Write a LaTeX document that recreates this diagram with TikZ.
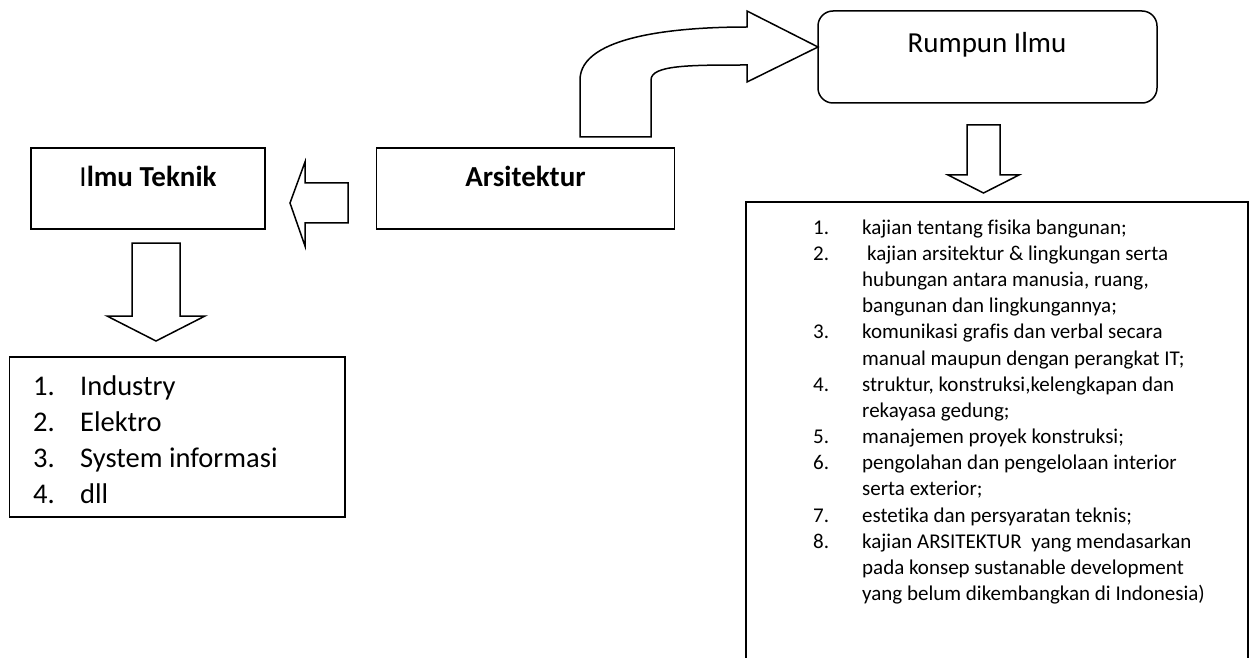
\documentclass[tikz,border=0pt]{standalone}
\usepackage{fontspec}
\setmainfont{Carlito}[Ligatures={NoCommon}]
\begin{document}
\begin{tikzpicture}[x=1pt,y=-1pt,
  outline/.style={draw=black, line width=1.5pt},
  box/.style={outline, rectangle, inner sep=0pt, outer sep=0pt},
  blockarrow/.style={outline, fill=white, line join=miter, miter limit=20},
  boldlbl/.style={anchor=base, inner sep=0pt, font=\bfseries\fontsize{29}{35}\selectfont},
  plainlbl/.style={anchor=base, inner sep=0pt, font=\fontsize{29}{35}\selectfont},
  biglist/.style={anchor=base west, inner sep=0pt, font=\fontsize{28.5}{36}\selectfont},
  smalllist/.style={anchor=base west, inner sep=0pt, font=\fontsize{21}{26.2}\selectfont}]
\useasboundingbox (0,0) rectangle (1254,658);
\fill[white] (0,0) rectangle (1254,658);

% boxes
\node[box, minimum width=234pt, minimum height=81pt] (ilmu) at (148,188.5) {};
\node[box, minimum width=298pt, minimum height=81pt] (arsi) at (525.5,188.5) {};
\node[box, rounded corners=15pt, minimum width=339pt, minimum height=92pt] (rumpun) at (987.5,57) {};
\node[box, minimum width=335.5pt, minimum height=160pt] (teklist) at (177.25,437) {};
\draw[outline] (746,666) -- (746,202) -- (1248,202) -- (1248,666);

% block arrows
\draw[blockarrow] (348,183) -- (305,183) -- (305,162) -- (290,203) -- (305,246) -- (305,223) -- (348,223) -- cycle;
\draw[blockarrow] (132,243) -- (180,243) -- (180,316) -- (205,316) -- (156,341) -- (107,316) -- (132,316) -- cycle;
\draw[blockarrow] (967,125) -- (1000,125) -- (1000,175) -- (1019,175) -- (983.5,193) -- (948,175) -- (967,175) -- cycle;
\draw[blockarrow] (580,137) -- (580,80) .. controls (580,35) and (680,27) .. (747,27) -- (747,11) -- (818,47) -- (747,82) -- (747,65) .. controls (690,65) and (651,65) .. (651,80) -- (651,137) -- cycle;

% labels
\node[boldlbl] (ilmulbl) at (148,187) {\mdseries I\bfseries lmu Teknik};
\node[boldlbl] (arsilbl) at (525.5,187) {Arsitektur};
\node[plainlbl] (rumpunlbl) at (987,53) {Rumpun Ilmu};

\node[biglist] (tektext) at (33,395) {\begin{tabular}[t]{@{}p{47pt}@{}l@{}}
1.&Industry\\
2.&Elektro\\
3.&System informasi\\
4.&dll
\end{tabular}};

\node[smalllist] (rumpuntext) at (813,234) {\begin{tabular}[t]{@{}p{49pt}@{}l@{}}
1.&kajian tentang fisika bangunan;\\
2.&\hspace{5pt}kajian arsitektur \& lingkungan serta\\
  &hubungan antara manusia, ruang,\\
  &bangunan dan lingkungannya;\\
3.&komunikasi grafis dan verbal secara\\
  &manual maupun dengan perangkat IT;\\
4.&struktur, konstruksi,kelengkapan dan\\
  &rekayasa gedung;\\
5.&manajemen proyek konstruksi;\\
6.&pengolahan dan pengelolaan interior\\
  &serta exterior;\\
7.&estetika dan persyaratan teknis;\\
8.&kajian ARSITEKTUR\ \ yang mendasarkan\\
  &pada konsep sustanable development\\
  &yang belum dikembangkan di Indonesia)
\end{tabular}};
\end{tikzpicture}
\end{document}
